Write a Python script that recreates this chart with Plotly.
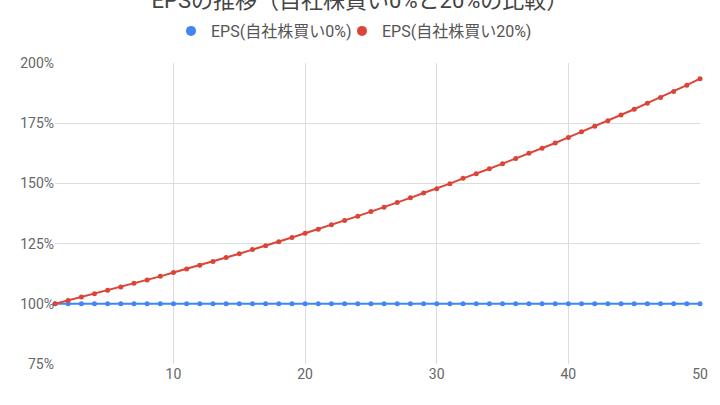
import plotly.graph_objects as go

years = list(range(1, 51))
eps_0 = [100.0] * 50
eps_20 = [100.0, 101.4, 102.8, 104.2, 105.6, 107.0, 108.5, 109.9, 111.4, 113.0,
          114.5, 116.0, 117.6, 119.2, 120.8, 122.5, 124.1, 125.8, 127.5, 129.3,
          131.0, 132.8, 134.6, 136.4, 138.3, 140.1, 142.1, 144.0, 146.0, 147.8,
          149.9, 152.1, 154.0, 156.1, 158.2, 160.3, 162.5, 164.6, 166.8, 169.1,
          171.4, 173.7, 176.0, 178.4, 180.8, 183.3, 185.7, 188.2, 190.8, 193.5]
series_names = ["EPS(自社株買い0%)", "EPS(自社株買い20%)"]
series_colors = ["#4285F4", "#DB4437"]
title_text = "EPSの推移（自社株買い0%と20%の比較）"
y_ticks = [75, 100, 125, 150, 175, 200]
y_tick_labels = ["75%", "100%", "125%", "150%", "175%", "200%"]
x_ticks = [10, 20, 30, 40, 50]

FONT = "Roboto, 'Noto Sans CJK JP', sans-serif"

fig = go.Figure()
legend_ids = ["legend", "legend2"]
for name, vals, col, lg in zip(series_names, [eps_0, eps_20], series_colors, legend_ids):
    fig.add_trace(go.Scatter(x=years, y=vals, name=name, mode="lines+markers",
                             line=dict(color=col, width=2), marker=dict(size=5, color=col),
                             cliponaxis=False, showlegend=False, legendgroup=name))
    fig.add_trace(go.Scatter(x=[None], y=[None], name=name, mode="markers",
                             marker=dict(size=10, color=col), showlegend=True, legendgroup=name,
                             legend=lg))

legend_style = dict(orientation="h", xref="container", xanchor="left", y=1 - 31 / 405,
                    yref="container", yanchor="middle", font=dict(size=16, color="#555555"),
                    itemwidth=30, bgcolor="rgba(0,0,0,0)")

fig.update_layout(
    width=720, height=405,
    paper_bgcolor="white", plot_bgcolor="white",
    font=dict(family=FONT, size=13, color="#666666"),
    margin=dict(l=55, r=20, t=63, b=41),
    title=dict(text=title_text, x=0.5, xanchor="center", y=1.0, yref="container",
               yanchor="middle", font=dict(size=22, color="#444444", family=FONT)),
    legend=dict(legend_style, x=171 / 720),
    legend2=dict(legend_style, x=342 / 720),
    showlegend=True,
)
fig.update_xaxes(range=[1, 50], tickvals=x_ticks, showgrid=True, gridcolor="#dcdcdc", gridwidth=1,
                 zeroline=False, showline=False, ticks="", automargin=False,
                 tickfont=dict(size=14, color="#666666"))
fig.update_yaxes(range=[75, 200], tickvals=y_ticks, ticktext=y_tick_labels, showgrid=True,
                 gridcolor="#dcdcdc", gridwidth=1, zeroline=False, showline=False, ticks="",
                 automargin=False, tickfont=dict(size=14, color="#666666"))

fig.write_html("out.html", config={"displayModeBar": False},
               post_script="document.body.style.margin='0';")
